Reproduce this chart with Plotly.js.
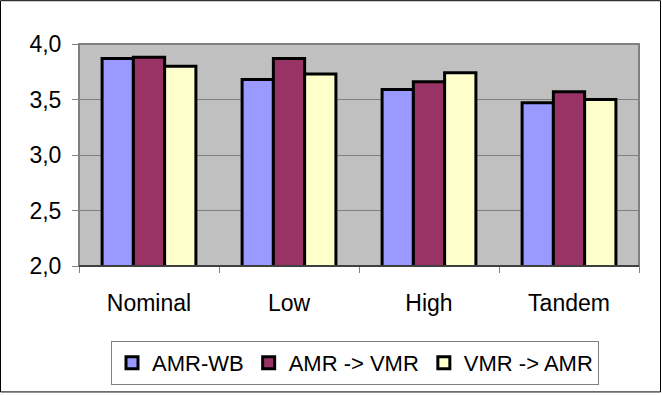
<!DOCTYPE html>
<html>
<head>
<meta charset="utf-8">
<script src="https://cdn.plot.ly/plotly-3.0.1.min.js"></script>
<style>
html,body{margin:0;padding:0;background:#fff;}
#chart{width:662px;height:395px;}
</style>
</head>
<body>
<div id="chart"></div>
<script>
var categories = ["Nominal", "Low", "High", "Tandem"];
var amrWb = [3.87, 3.68, 3.59, 3.47];
var amrToVmr = [3.88, 3.87, 3.66, 3.57];
var vmrToAmr = [3.80, 3.73, 3.74, 3.50];
var seriesNames = ["AMR-WB", "AMR -> VMR", "VMR -> AMR"];
var yTicks = [2.0, 2.5, 3.0, 3.5, 4.0];
var yTickText = ["2,0", "2,5", "3,0", "3,5", "4,0"];

var colors = ["#9999FF", "#993366", "#FFFFCC"];
var series = [amrWb, amrToVmr, vmrToAmr];
var traces = series.map(function (vals, i) {
  return {
    type: "bar",
    name: seriesNames[i],
    x: categories,
    y: vals,
    marker: {color: colors[i], line: {color: "#000000", width: 3}},
    hoverinfo: "none"
  };
});

var L = 79, R = 23, T = 44, B = 128, W = 662, H = 395;
var pw = W - L - R, ph = H - T - B;

var layout = {
  width: W, height: H,
  margin: {l: L, r: R, t: T, b: B, pad: 0},
  paper_bgcolor: "#ffffff",
  plot_bgcolor: "#C0C0C0",
  barmode: "group",
  bargap: 0.33,
  bargroupgap: 0,
  font: {family: "Liberation Sans, Arial, sans-serif", color: "#000000", size: 23},
  showlegend: true,
  legend: {
    orientation: "h",
    x: (355 - L) / pw, xanchor: "center",
    y: -118 / ph, yanchor: "bottom",
    bordercolor: "#808080", borderwidth: 1, bgcolor: "#ffffff",
    font: {size: 22, family: "Liberation Sans, Arial, sans-serif"},
    traceorder: "normal",
    itemwidth: 30
  },
  xaxis: {
    type: "category",
    showgrid: false,
    ticks: "outside",
    tickson: "boundaries",
    ticklen: 6,
    tickcolor: "#808080",
    tickwidth: 1,
    showline: false,
    zeroline: false,
    tickfont: {size: 23},
    ticklabelstandoff: 21,
    automargin: false,
    fixedrange: true
  },
  yaxis: {
    range: [2.0, 4.0],
    tickmode: "array",
    tickvals: yTicks,
    ticktext: yTickText,
    ticks: "outside",
    ticklen: 6,
    tickcolor: "#808080",
    tickwidth: 1,
    showgrid: true,
    gridcolor: "#808080",
    gridwidth: 1,
    zeroline: false,
    showline: false,
    tickfont: {size: 23},
    ticklabelstandoff: 6,
    automargin: false,
    fixedrange: true
  },
  shapes: [
    {type: "rect", xref: "paper", yref: "paper", x0: 0, x1: 1, y0: 0, y1: 1,
     line: {color: "#808080", width: 2}, fillcolor: "rgba(0,0,0,0)", layer: "above"},
    {type: "line", xref: "paper", yref: "paper", x0: 0, x1: 1, y0: 0, y1: 0,
     line: {color: "#000000", width: 1}, layer: "above"},
    {type: "rect", xref: "paper", yref: "paper",
     x0: -(L - 0.5) / pw, x1: 1 + (R - 1.5) / pw,
     y0: -(B - 1.5) / ph, y1: 1 + (T - 0.5) / ph,
     line: {color: "#000000", width: 1}, fillcolor: "rgba(0,0,0,0)", layer: "above"}
  ]
};

Plotly.newPlot("chart", traces, layout, {staticPlot: true, displayModeBar: false});
</script>
</body>
</html>
